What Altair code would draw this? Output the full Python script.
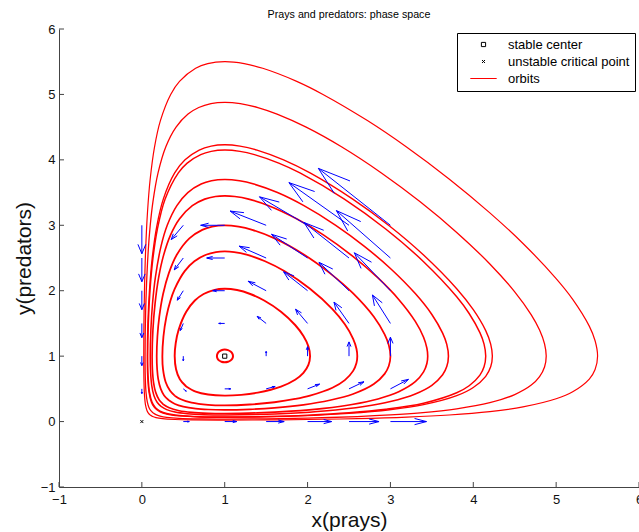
import altair as alt
import pandas as pd

FONT = "Liberation Sans"

# ---------------- data ----------------
AXIS_TICKS = [-1, 0, 1, 2, 3, 4, 5, 6]

orbit1_x = [0.1006,0.13,0.17,0.25,0.4,0.6,1.0,1.5,2.0,2.6,3.2,3.708,4.2,4.6,5.0,5.2,5.4,5.47,5.5,
            5.47,5.4,5.2,5.0,4.6,4.2,3.708,
            3.19,2.722,2.186,1.869,1.459,1.235,1.0,
            0.795,0.649,0.4545,0.348,0.2239,0.1532,0.1006,0.068,0.0448,0.0316,0.0252,0.0231,0.0258,0.0319,0.0444,0.0614,0.0785,0.1006]
orbit1_y = [0.1006,0.0785,0.0614,0.0444,0.0319,0.0258,0.0231,0.0252,0.0316,0.0448,0.068,0.1006,0.1532,0.2239,0.348,0.4545,0.649,0.795,1.0,
            1.235,1.459,1.869,2.186,2.722,3.19,3.708,
            4.2,4.6,5.0,5.2,5.4,5.47,5.5,
            5.47,5.4,5.2,5.0,4.6,4.2,3.708,3.2,2.6,2.0,1.5,1.0,0.6,0.4,0.25,0.17,0.13,0.1006]

orbit2_x = [0.1335,0.17,0.22,0.3,0.45,0.7,1.0,1.5,2.0,2.6,3.0,3.359,3.8,4.2,4.5,4.7,4.8,4.86,4.88,
            4.86,4.8,4.7,4.5,4.2,3.8,3.359,
            2.891,2.409,1.983,1.632,1.4,1.188,1.0,
            0.834,0.6865,0.5574,0.4128,0.2894,0.1953,0.1335,0.1011,0.0764,0.0534,0.0426,0.0386,0.0409,0.05,0.0657,0.0842,0.1058,0.1335]
orbit2_y = [0.1335,0.1058,0.0842,0.0657,0.05,0.0409,0.0386,0.0426,0.0534,0.0764,0.1011,0.1335,0.1953,0.2894,0.4128,0.5574,0.6865,0.834,1.0,
            1.188,1.4,1.632,1.983,2.409,2.891,3.359,
            3.8,4.2,4.5,4.7,4.8,4.86,4.88,
            4.86,4.8,4.7,4.5,4.2,3.8,3.359,3.0,2.6,2.0,1.5,1.0,0.7,0.45,0.3,0.22,0.17,0.1335]

orbit3_x = [0.1808,0.22,0.3,0.45,0.7,1.0,1.5,2.0,2.5,2.989,3.4,3.8,4.0,4.15,4.21,4.23,
            4.21,4.15,4.0,3.8,3.4,2.989,
            2.545,2.03,1.71,1.39,1.184,1.0,
            0.8367,0.6919,0.5213,0.396,0.2588,0.1808,0.1252,0.0918,0.0729,0.0659,0.0699,0.0862,0.1143,0.1488,0.1808]
orbit3_y = [0.1808,0.1488,0.1143,0.0862,0.0699,0.0659,0.0729,0.0918,0.1252,0.1808,0.2588,0.396,0.5213,0.6919,0.8367,1.0,
            1.184,1.39,1.71,2.03,2.545,2.989,
            3.4,3.8,4.0,4.15,4.21,4.23,
            4.21,4.15,4.0,3.8,3.4,2.989,2.5,2.0,1.5,1.0,0.7,0.45,0.3,0.22,0.1808]

orbit4_x = [0.1877,0.22,0.3,0.45,0.7,1.0,1.5,2.0,2.5,2.943,3.4,3.8,3.95,4.08,4.13,4.15,
            4.13,4.08,3.95,3.8,3.4,2.943,
            2.444,1.908,1.652,1.359,1.184,1.0,
            0.837,0.7105,0.5471,0.4404,0.2809,0.1877,0.1342,0.0982,0.0779,0.0702,0.0748,0.0921,0.1224,0.1603,0.1877]
orbit4_y = [0.1877,0.1603,0.1224,0.0921,0.0748,0.0702,0.0779,0.0982,0.1342,0.1877,0.2809,0.4404,0.5471,0.7105,0.837,1.0,
            1.184,1.359,1.652,1.908,2.444,2.943,
            3.4,3.8,3.95,4.08,4.13,4.15,
            4.13,4.08,3.95,3.8,3.4,2.943,2.5,2.0,1.5,1.0,0.7,0.45,0.3,0.22,0.1877]

orbit5_x = [0.2317,0.3,0.4,0.55,0.75,1.0,1.4,1.8,2.2,2.682,3.0,3.3,3.5,3.63,3.68,3.7,
            3.68,3.63,3.5,3.3,3.0,2.682,
            2.34,1.956,1.637,1.351,1.179,1.0,
            0.84,0.7155,0.5545,0.4227,0.3064,0.2317,0.1627,0.1286,0.1087,0.1013,0.1057,0.1195,0.1451,0.1822,0.2317]
orbit5_y = [0.2317,0.1822,0.1451,0.1195,0.1057,0.1013,0.1087,0.1286,0.1627,0.2317,0.3064,0.4227,0.5545,0.7155,0.84,1.0,
            1.179,1.351,1.637,1.956,2.34,2.682,
            3.0,3.3,3.5,3.63,3.68,3.7,
            3.68,3.63,3.5,3.3,3.0,2.682,2.2,1.8,1.4,1.0,0.75,0.55,0.4,0.3,0.2317]

orbit6_x = [0.2609,0.33,0.45,0.6,0.8,1.0,1.4,1.8,2.2,2.536,2.85,3.1,3.3,3.4,3.44,3.45,
            3.44,3.4,3.3,3.1,2.85,2.536,
            2.195,1.867,1.531,1.289,1.122,1.0,
            0.888,0.7587,0.6092,0.4554,0.3457,0.2609,0.2024,0.159,0.1334,0.1241,0.1273,0.1409,0.1661,0.2096,0.2609]
orbit6_y = [0.2609,0.2096,0.1661,0.1409,0.1273,0.1241,0.1334,0.159,0.2024,0.2609,0.3457,0.4554,0.6092,0.7587,0.888,1.0,
            1.122,1.289,1.531,1.867,2.195,2.536,
            2.85,3.1,3.3,3.4,3.44,3.45,
            3.44,3.4,3.3,3.1,2.85,2.536,2.2,1.8,1.4,1.0,0.8,0.6,0.45,0.33,0.2609]

orbit7_x = [0.3257,0.4,0.5,0.65,0.8,1.0,1.3,1.6,1.95,2.269,2.55,2.8,2.93,2.98,3.0,
            2.98,2.93,2.8,2.55,2.269,
            1.959,1.602,1.332,1.168,1.0,
            0.848,0.729,0.5735,0.4216,0.3257,0.2562,0.2101,0.1877,0.1792,0.1844,0.1975,0.228,0.2684,0.3257]
orbit7_y = [0.3257,0.2684,0.228,0.1975,0.1844,0.1792,0.1877,0.2101,0.2562,0.3257,0.4216,0.5735,0.729,0.848,1.0,
            1.168,1.332,1.602,1.959,2.269,
            2.55,2.8,2.93,2.98,3.0,
            2.98,2.93,2.8,2.55,2.269,1.95,1.6,1.3,1.0,0.8,0.65,0.5,0.4,0.3257]

orbit8_x = [0.3963,0.47,0.6,0.8,1.0,1.3,1.6,1.85,2.029,2.3,2.45,2.55,2.59,2.6,
            2.59,2.55,2.45,2.3,2.029,
            1.719,1.487,1.265,1.114,1.0,
            0.894,0.7747,0.634,0.5173,0.3963,0.3453,0.2957,0.2605,0.2474,0.2552,0.288,0.3406,0.3963]
orbit8_y = [0.3963,0.3406,0.288,0.2552,0.2474,0.2605,0.2957,0.3453,0.3963,0.5173,0.634,0.7747,0.894,1.0,
            1.114,1.265,1.487,1.719,2.029,
            2.3,2.45,2.55,2.59,2.6,
            2.59,2.55,2.45,2.3,2.029,1.85,1.6,1.3,1.0,0.8,0.6,0.47,0.3963]

orbit9_x = [0.5356,0.65,0.8,1.0,1.2,1.4,1.679,1.85,1.95,2.01,2.03,
            2.01,1.95,1.85,1.679,
            1.476,1.308,1.149,1.0,
            0.867,0.7453,0.6397,0.5356,0.4429,0.4087,0.3964,0.4127,0.4571,0.5356]
orbit9_y = [0.5356,0.4571,0.4127,0.3964,0.4087,0.4429,0.5356,0.6397,0.7453,0.867,1.0,
            1.149,1.308,1.476,1.679,
            1.85,1.95,2.01,2.03,
            2.01,1.95,1.85,1.679,1.4,1.2,1.0,0.8,0.65,0.5356]

orbit10_x = [0.933,0.96,1.0,1.04,1.0702,1.0909,1.1,1.0914,1.0702,1.04,1.0,0.96,0.933,0.9139,0.906,0.9143,0.933]
orbit10_y = [0.933,0.9143,0.906,0.9139,0.933,0.96,1.0,1.04,1.0702,1.0914,1.1,1.0909,1.0702,1.04,1.0,0.96,0.933]

# quiver grid and field components (as read from the arrows)
quiver_x = [0, 0.5, 1, 1.5, 2, 2.5, 3]
quiver_y = [0, 0.5, 1, 1.5, 2, 2.5, 3]
quiver_u = [
    [0, 0.5, 1, 1.5, 2, 2.5, 3],
    [0, 0.25, 0.5, 0.75, 1, 1.25, 1.5],
    [0, 0, 0, 0, 0, 0, 0],
    [0, -0.25, -0.5, -0.75, -1, -1.25, -1.5],
    [0, -0.5, -1, -1.5, -2, -2.5, -3],
    [0, -0.75, -1.5, -2.25, -3, -3.75, -4.5],
    [0, -1, -2, -3, -4, -5, -6],
]
quiver_v = [
    [0, 0, 0, 0, 0, 0, 0],
    [-0.5, -0.25, 0, 0.25, 0.5, 0.75, 1],
    [-1, -0.5, 0, 0.5, 1, 1.5, 2],
    [-1.5, -0.75, 0, 0.75, 1.5, 2.25, 3],
    [-2, -1, 0, 1, 2, 3, 4],
    [-2.5, -1.25, 0, 1.25, 2.5, 3.75, 5],
    [-3, -1.5, 0, 1.5, 3, 4.5, 6],
]

crit_x = [1, 0]
crit_y = [1, 0]
crit_kind = ["stable center", "unstable critical point"]
LEGEND_LABELS = ["stable center", "unstable critical point", "orbits"]

# ---------------- styles ----------------
ORBIT_NAMES = [f"o{i}" for i in range(1, 11)]
ORBIT_WIDTHS = [1.2, 2.0, 1.3, 1.9, 2.0, 2.0, 2.0, 2.0, 2.0, 1.5]
ARROW_SCALE = 0.145
HEAD_A = 0.33
HEAD_B = 0.33
AXIS_COLOR = "#444444"

# ---------------- tables ----------------
orbit_xs = [orbit1_x, orbit2_x, orbit3_x, orbit4_x, orbit5_x, orbit6_x, orbit7_x, orbit8_x, orbit9_x, orbit10_x]
orbit_ys = [orbit1_y, orbit2_y, orbit3_y, orbit4_y, orbit5_y, orbit6_y, orbit7_y, orbit8_y, orbit9_y, orbit10_y]
rows = []
for name, xs, ys in zip(ORBIT_NAMES, orbit_xs, orbit_ys):
    for i, (px, py) in enumerate(zip(xs, ys)):
        rows.append({"orbit": name, "i": i, "x": px, "y": py})
orbit_df = pd.DataFrame(rows)

arrow_rows = []
for r, yv in enumerate(quiver_y):
    for c, xv in enumerate(quiver_x):
        u = quiver_u[r][c] * ARROW_SCALE
        v = quiver_v[r][c] * ARROW_SCALE
        if u == 0 and v == 0:
            continue
        tx, ty = xv + u, yv + v
        arrow_rows.append({"x0": xv, "y0": yv, "x1": tx, "y1": ty})
        arrow_rows.append({"x0": tx - HEAD_A * (u + HEAD_B * v), "y0": ty - HEAD_A * (v - HEAD_B * u), "x1": tx, "y1": ty})
        arrow_rows.append({"x0": tx - HEAD_A * (u - HEAD_B * v), "y0": ty - HEAD_A * (v + HEAD_B * u), "x1": tx, "y1": ty})
arrow_df = pd.DataFrame(arrow_rows)

crit_df = pd.DataFrame({"x": crit_x, "y": crit_y, "kind": crit_kind})
tick_df = pd.DataFrame({"v": AXIS_TICKS})

# ---------------- scales / axes ----------------
X_SCALE = alt.Scale(domain=[-1, 6], nice=False, zero=False)
Y_SCALE = alt.Scale(domain=[-1, 6], nice=False, zero=False)

x_axis = alt.Axis(values=AXIS_TICKS, grid=False, ticks=False, tickSize=0, labelFlush=False,
                  domainColor=AXIS_COLOR, domainWidth=1, labelFont=FONT, labelFontSize=13,
                  labelColor="#111111", labelPadding=6, title="x(prays)", titleFont=FONT,
                  titleFontSize=21, titleFontWeight="normal", titleColor="#111111", titlePadding=3)
y_axis = alt.Axis(values=AXIS_TICKS, grid=False, ticks=False, tickSize=0, labelFlush=False,
                  domainColor=AXIS_COLOR, domainWidth=1, labelFont=FONT, labelFontSize=13,
                  labelColor="#111111", labelPadding=4, title="y(predators)", titleFont=FONT,
                  titleFontSize=21, titleFontWeight="normal", titleColor="#111111", titlePadding=6)

def X(field):
    return alt.X(field, scale=X_SCALE, axis=x_axis)

def Y(field):
    return alt.Y(field, scale=Y_SCALE, axis=y_axis)

orbits = alt.Chart(orbit_df).mark_line(color="#ff0000", interpolate="catmull-rom").encode(
    x=X("x:Q"),
    y=Y("y:Q"),
    detail="orbit:N",
    order="i:Q",
    strokeWidth=alt.StrokeWidth("orbit:N", scale=alt.Scale(domain=ORBIT_NAMES, range=ORBIT_WIDTHS), legend=None),
)

arrows = alt.Chart(arrow_df).mark_rule(color="#0000ff", strokeWidth=1).encode(
    x=X("x0:Q"), y=Y("y0:Q"), x2="x1:Q", y2="y1:Q",
)

legend = alt.Legend(title=None, orient="none", legendX=398, legendY=4, padding=5,
                    strokeColor="black", fillColor="white", labelFont=FONT, labelFontSize=13,
                    labelColor="black", symbolSize=36, symbolStrokeWidth=1, symbolOffset=15,
                    labelOffset=18, rowPadding=3, cornerRadius=0)

SHAPES = ["M-0.7,-0.7H0.7V0.7H-0.7Z", "M-0.5,-0.5L0.5,0.5M-0.5,0.5L0.5,-0.5", "M-4.4,0H4.4"]

points = alt.Chart(crit_df).mark_point(filled=False, size=36, strokeWidth=1, opacity=1).encode(
    x=X("x:Q"),
    y=Y("y:Q"),
    shape=alt.Shape("kind:N", scale=alt.Scale(domain=LEGEND_LABELS, range=SHAPES), legend=legend),
    color=alt.Color("kind:N", scale=alt.Scale(domain=LEGEND_LABELS, range=["black", "black", "#ff0000"]), legend=legend),
)

yticks = alt.Chart(tick_df).mark_rule(color=AXIS_COLOR, strokeWidth=1).encode(
    y=Y("v:Q"), x=alt.value(0), x2=alt.value(5),
)
xticks = alt.Chart(tick_df).mark_rule(color=AXIS_COLOR, strokeWidth=1).encode(
    x=X("v:Q"), y=alt.value(458), y2=alt.value(453),
)

chart = alt.layer(orbits, arrows, points, yticks, xticks).properties(
    width=580,
    height=458,
    autosize=alt.AutoSizeParams(type="none"),
    padding={"left": 59, "top": 29, "right": 0, "bottom": 45},
    background="white",
    title=alt.TitleParams("Prays and predators: phase space", font=FONT, fontSize=10.7,
                          fontWeight="normal", color="black", offset=2, anchor="middle"),
).configure_view(stroke=None)

chart.save("out.html", embed_options={"renderer": "svg", "actions": False})
